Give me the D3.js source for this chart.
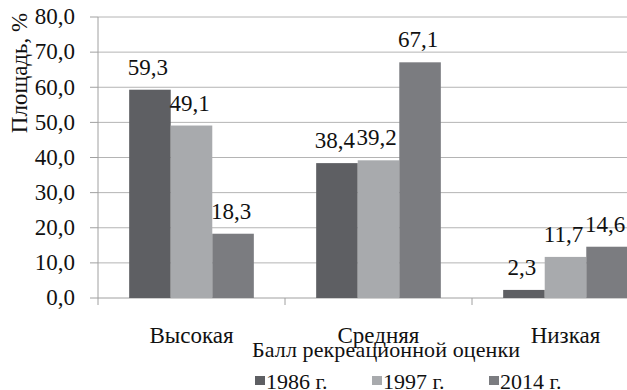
<!DOCTYPE html>
<html>
<head>
<meta charset="utf-8">
<script src="https://cdn.jsdelivr.net/npm/d3@7"></script>
</head>
<body style="margin:0">
<svg id="chart" width="627" height="390">
<rect width="627" height="390" fill="#fff"></rect>
</svg>
<script>
// Share of area by recreational assessment score, %
const categories = ["Высокая", "Средняя", "Низкая"];
const years = ["1986 г.", "1997 г.", "2014 г."];
const values1986 = [59.3, 38.4, 2.3];
const values1997 = [49.1, 39.2, 11.7];
const values2014 = [18.3, 67.1, 14.6];
const yTicks = [0, 10, 20, 30, 40, 50, 60, 70, 80];
const colors = ["#5e5f63", "#a8aaad", "#7b7c80"];

const series = [values1986, values1997, values2014];
const fmt = v => d3.format(".1f")(v).replace(".", ",");
const FONT = "Liberation Serif";
const INK = "#111";

const svg = d3.select("#chart");
const plotLeft = 98, plotTop = 17, plotBottom = 298;
const bandW = 187;

const x = d3.scaleBand()
  .domain(categories)
  .range([plotLeft, plotLeft + bandW * categories.length])
  .paddingInner(0)
  .paddingOuter(0);

const x1 = d3.scaleBand()
  .domain(years)
  .range([0, bandW])
  .paddingOuter(0.75)
  .paddingInner(0);

const y = d3.scaleLinear().domain([0, 80]).range([plotBottom, plotTop]);

// horizontal gridlines
svg.append("g")
  .selectAll("line")
  .data(yTicks.filter(t => t > 0))
  .join("line")
  .attr("x1", plotLeft).attr("x2", x.range()[1])
  .attr("y1", d => y(d)).attr("y2", d => y(d))
  .attr("stroke", "#b4b4b4").attr("stroke-width", 1);

// y axis: line and tick marks only, labels are plain texts below
svg.append("line")
  .attr("x1", plotLeft).attr("x2", plotLeft)
  .attr("y1", plotTop).attr("y2", plotBottom + 7)
  .attr("stroke", "#a0a0a0");
svg.append("g")
  .selectAll("line")
  .data(yTicks)
  .join("line")
  .attr("x1", plotLeft - 8).attr("x2", plotLeft)
  .attr("y1", d => y(d)).attr("y2", d => y(d))
  .attr("stroke", "#a0a0a0");
svg.append("g")
  .selectAll("text")
  .data(yTicks)
  .join("text")
  .attr("x", plotLeft - 23)
  .attr("y", d => y(d))
  .attr("dy", "0.32em")
  .attr("text-anchor", "end")
  .attr("font-size", 23)
  .attr("font-family", FONT)
  .attr("fill", INK)
  .text(d => fmt(d));

// x axis line with separator ticks
svg.append("line")
  .attr("x1", plotLeft).attr("x2", x.range()[1])
  .attr("y1", plotBottom).attr("y2", plotBottom)
  .attr("stroke", "#a0a0a0");
svg.append("g")
  .selectAll("line")
  .data(categories.slice(1))
  .join("line")
  .attr("x1", d => x(d)).attr("x2", d => x(d))
  .attr("y1", plotBottom).attr("y2", plotBottom + 7)
  .attr("stroke", "#a0a0a0");
svg.append("g")
  .selectAll("text")
  .data(categories)
  .join("text")
  .attr("x", d => x(d) + x.bandwidth() / 2)
  .attr("y", plotBottom + 45)
  .attr("text-anchor", "middle")
  .attr("font-size", 23)
  .attr("font-family", FONT)
  .attr("fill", INK)
  .text(d => d);

// bars
const groups = svg.append("g")
  .selectAll("g")
  .data(categories)
  .join("g")
  .attr("transform", d => `translate(${x(d)},0)`);

groups.selectAll("rect")
  .data((c, i) => years.map((yr, k) => ({ yr, k, v: series[k][i] })))
  .join("rect")
  .attr("x", d => x1(d.yr))
  .attr("width", x1.bandwidth())
  .attr("y", d => y(d.v))
  .attr("height", d => y(0) - y(d.v))
  .attr("fill", d => colors[d.k]);

groups.selectAll("text")
  .data((c, i) => years.map((yr, k) => ({ yr, k, v: series[k][i] })))
  .join("text")
  .attr("x", d => x1(d.yr) + x1.bandwidth() / 2 - 2)
  .attr("y", d => y(d.v) - 15)
  .attr("text-anchor", "middle")
  .attr("font-size", 23)
  .attr("font-family", FONT)
  .attr("fill", INK)
  .text(d => fmt(d.v));

// y axis title
svg.append("text")
  .attr("transform", `translate(27,73) rotate(-90)`)
  .attr("text-anchor", "middle")
  .attr("font-size", 23)
  .attr("font-family", FONT)
  .attr("fill", INK)
  .text("Площадь, %");

// x axis title
svg.append("text")
  .attr("x", 386).attr("y", 357)
  .attr("text-anchor", "middle")
  .attr("font-size", 22)
  .attr("font-family", FONT)
  .attr("textLength", 268)
  .attr("lengthAdjust", "spacing")
  .attr("fill", INK)
  .text("Балл рекреационной оценки");

// legend
const legend = svg.append("g")
  .selectAll("g")
  .data(years)
  .join("g")
  .attr("transform", (d, i) => `translate(${255 + i * 117},0)`);
legend.append("rect")
  .attr("x", 0).attr("y", 376).attr("width", 10).attr("height", 9)
  .attr("fill", (d, i) => colors[i]);
legend.append("text")
  .attr("x", 11).attr("y", 389)
  .attr("font-size", 22)
  .attr("font-family", FONT)
  .attr("fill", INK)
  .text(d => d);
</script>
</body>
</html>
